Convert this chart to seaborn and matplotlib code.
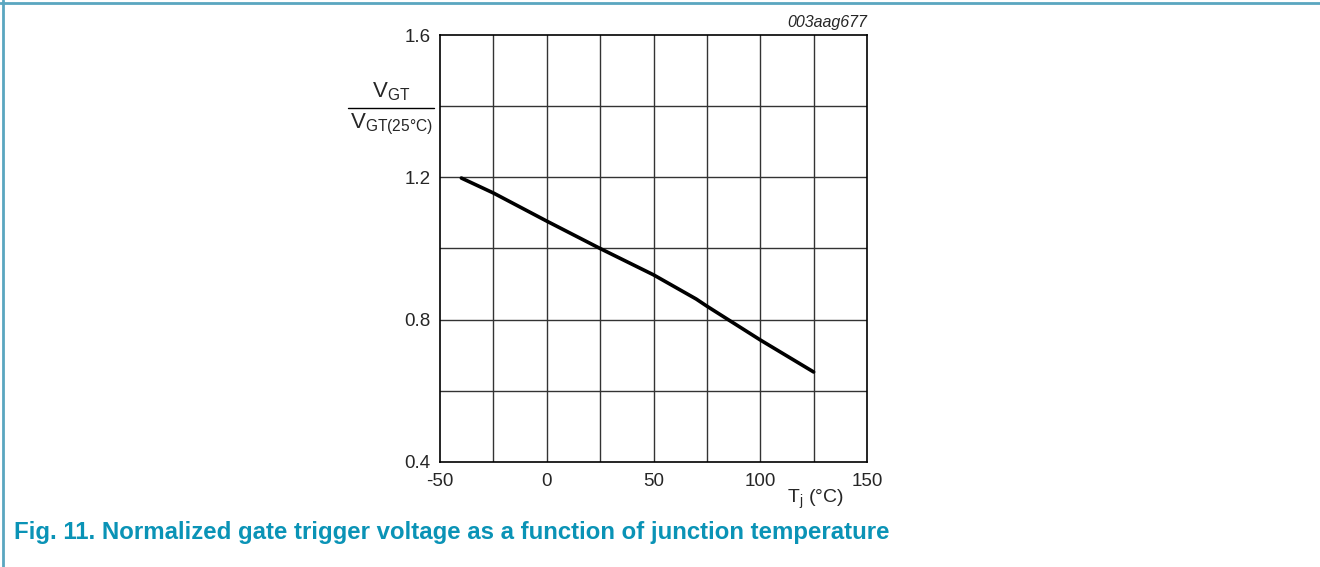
import numpy as np
import pandas as pd
import matplotlib
matplotlib.use("Agg")
import matplotlib.pyplot as plt
import seaborn as sns
from matplotlib.lines import Line2D

# curve
tj = [-40, -25, 0, 25, 50, 70, 75, 100, 125]
vgt_ratio = [1.198, 1.156, 1.077, 1.0, 0.926, 0.858, 0.838, 0.743, 0.653]
x_ticks = [-50, 0, 50, 100, 150]
y_ticks = [0.4, 0.8, 1.2, 1.6]

sns.set_style("white")
plt.rcParams['font.family'] = ['Liberation Sans', 'DejaVu Sans']
plt.rcParams['mathtext.fontset'] = 'custom'
plt.rcParams['mathtext.rm'] = 'Liberation Sans'

df = pd.DataFrame({"tj": tj, "ratio": vgt_ratio})

fig = plt.figure(figsize=(13.2, 5.67), dpi=100)
ax = fig.add_axes([440/1320, 105/567, 427/1320, 427/567])

# grid every 25 degC and every 0.2
for xv in np.arange(-25, 150, 25):
    ax.axvline(xv, color="#333333", lw=1.0, zorder=1)
for yv in np.arange(0.6, 1.6, 0.2):
    ax.axhline(yv, color="#333333", lw=1.0, zorder=1)

sns.lineplot(data=df, x="tj", y="ratio", ax=ax, color="black", lw=2.6, zorder=3)

ax.set_xlim(-50, 150)
ax.set_ylim(0.4, 1.6)
ax.set_xticks(x_ticks)
ax.set_yticks(y_ticks)
ax.set_xticklabels([str(v) for v in x_ticks])
ax.set_yticklabels([f"{v:.1f}" for v in y_ticks])
ax.tick_params(axis="x", length=0, labelsize=13.5, pad=8)
ax.tick_params(axis="y", length=0, labelsize=13.5, pad=7)
ax.set_xlabel("")
ax.set_ylabel("")
for s in ax.spines.values():
    s.set_color("black")
    s.set_linewidth(1.2)

# y axis label as a fraction
fig.text(391/1320, 1 - 92/567, r"V$_{\mathrm{GT}}$", ha="center", va="center", fontsize=16)
fig.text(391/1320, 1 - 124/567, r"V$_{\mathrm{GT(25°C)}}$", ha="center", va="center", fontsize=16)
fig.add_artist(Line2D([348/1320, 434/1320], [1 - 108/567, 1 - 108/567],
                      color="black", lw=1.0, transform=fig.transFigure))

fig.text(815/1320, 1 - 499/567, r"T$_{\mathrm{j}}$ (°C)", ha="center", va="center", fontsize=14)
fig.text(867/1320, 1 - 22/567, "003aag677", ha="right", va="center",
         fontsize=11.5, style="italic")

fig.text(14/1320, 1 - 532/567,
         "Fig. 11. Normalized gate trigger voltage as a function of junction temperature",
         ha="left", va="center", fontsize=17.3, fontweight="bold", color="#0a93b6")

# frame lines at top and left
fig.add_artist(Line2D([0, 1], [1 - 2.5/567, 1 - 2.5/567], color="#5aa6c0", lw=2,
                      transform=fig.transFigure))
fig.add_artist(Line2D([3/1320, 3/1320], [0, 1], color="#5aa6c0", lw=2,
                      transform=fig.transFigure))

fig.savefig("out.png", dpi=100)
